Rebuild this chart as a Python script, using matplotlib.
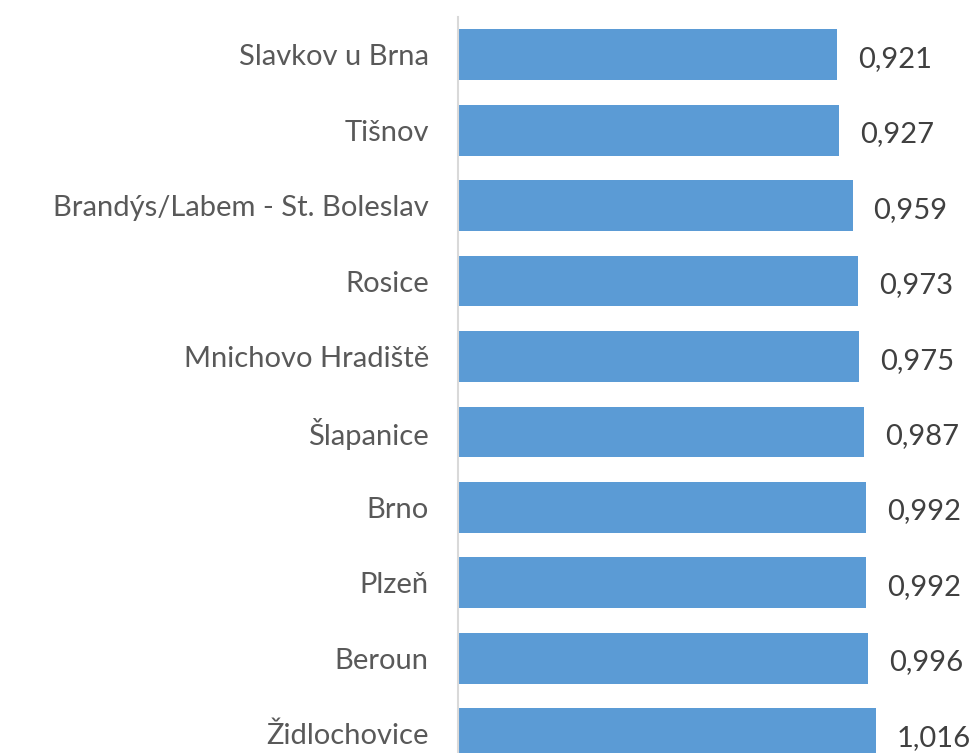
import matplotlib
matplotlib.use("Agg")
import matplotlib.pyplot as plt

# data (top to bottom)
towns = ["Slavkov u Brna", "Tišnov", "Brandýs/Labem - St. Boleslav", "Rosice",
         "Mnichovo Hradiště", "Šlapanice", "Brno", "Plzeň", "Beroun", "Židlochovice"]
values = [0.921, 0.927, 0.959, 0.973, 0.975, 0.987, 0.992, 0.992, 0.996, 1.016]
value_labels = ["0,921", "0,927", "0,959", "0,973", "0,975",
                "0,987", "0,992", "0,992", "0,996", "1,016"]

plt.rcParams['font.family'] = ['Lato', 'DejaVu Sans']

fig = plt.figure(figsize=(9.73, 7.53), dpi=100)
# axes runs past the bottom edge, the reference is cropped there
ax = fig.add_axes([458 / 973, 1 - 771.4 / 753, 1 - 458 / 973, 754.4 / 753])

pos = list(range(len(towns)))
bars = ax.barh(pos, values, height=0.672, color="#5B9BD5")

ax.set_ylim(len(towns) - 0.5, -0.5)
ax.set_xlim(0, 515 / 411.5)

for b, lab in zip(bars, value_labels):
    ax.annotate(lab, (b.get_width(), b.get_y() + b.get_height() / 2),
                xytext=(15, -3), textcoords="offset points",
                va="center", ha="left", fontsize=21, color="#404040")

ax.set_yticks(pos)
ax.set_yticklabels(towns, fontsize=21, color="#595959")
ax.tick_params(axis="y", length=0, pad=21)
ax.set_xticks([])

for s in ["top", "right", "bottom"]:
    ax.spines[s].set_visible(False)
ax.spines["left"].set_color("#D9D9D9")
ax.spines["left"].set_linewidth(1.5)

fig.savefig("out.png", dpi=100)
